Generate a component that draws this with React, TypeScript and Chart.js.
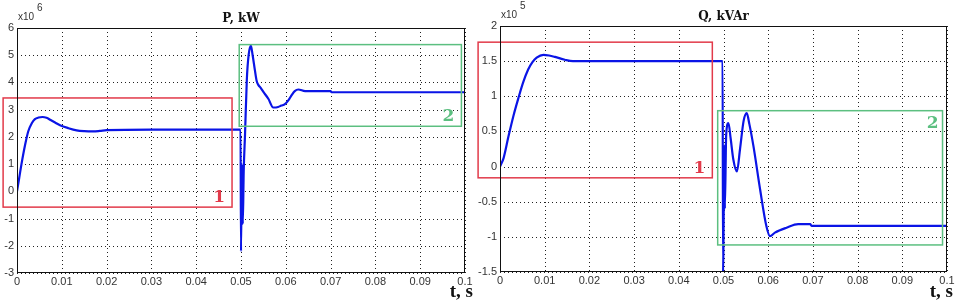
import React, { useEffect, useRef } from "react";
import { Chart, registerables } from "chart.js";

Chart.register(...registerables);

// ---- Data (P, ×10^6) ----
const pTime = [0, 0.0005, 0.001, 0.0018, 0.0025, 0.0033, 0.004, 0.0048, 0.0057, 0.0066, 0.0075, 0.0085, 0.0096, 0.0115,
  0.0133, 0.015, 0.017, 0.0185, 0.02, 0.03, 0.04, 0.0499,
  0.05, 0.0502, 0.0504, 0.0506, 0.0509, 0.0513, 0.0517, 0.0522, 0.0526, 0.0531, 0.0535, 0.0539, 0.0544, 0.055, 0.0561,
  0.0572, 0.0583, 0.059, 0.0598, 0.0606, 0.0613, 0.062, 0.0628, 0.0643, 0.07, 0.0702, 0.08, 0.09, 0.1];
const pValues = [0, 0.5, 1.0, 1.7, 2.2, 2.5, 2.65, 2.71, 2.73, 2.7, 2.62, 2.53, 2.43, 2.32,
  2.24, 2.21, 2.2, 2.22, 2.25, 2.27, 2.27, 2.27,
  -2.2, 1.0, -1.2, 0.7, 2.1, 4.1, 5.0, 5.35, 5.0, 4.45, 4.05, 3.9, 3.8, 3.65, 3.4,
  3.08, 3.1, 3.15, 3.2, 3.35, 3.53, 3.68, 3.74, 3.68, 3.68, 3.64, 3.64, 3.64, 3.64];

// ---- Data (Q, ×10^5) ----
const qTime = [0, 0.0008, 0.0019, 0.003, 0.0041, 0.0052, 0.0063, 0.0073, 0.0082, 0.0097, 0.011, 0.0123, 0.0145, 0.0163,
  0.02, 0.03, 0.04, 0.0498,
  0.0499, 0.0502, 0.0503, 0.0506, 0.0511, 0.0516, 0.0522, 0.053, 0.0537, 0.0545, 0.0552, 0.0558, 0.0567, 0.0582,
  0.0596, 0.0604, 0.0615, 0.0641, 0.0667, 0.0694, 0.0697, 0.08, 0.09, 0.1];
const qValues = [0, 0.12, 0.43, 0.72, 0.97, 1.2, 1.38, 1.49, 1.55, 1.59, 1.58, 1.56, 1.52, 1.5,
  1.5, 1.5, 1.5, 1.5,
  -1.5, 0.3, -0.6, 0.45, 0.62, 0.4, 0.1, -0.07, 0.25, 0.65, 0.76, 0.6, 0.29, -0.33,
  -0.85, -0.99, -0.94, -0.87, -0.82, -0.82, -0.845, -0.845, -0.845, -0.845];

// ---- Tick values ----
const pTicks = [-3, -2, -1, 0, 1, 2, 3, 4, 5, 6];
const qTicks = [-1.5, -1, -0.5, 0, 0.5, 1, 1.5, 2];
const timeTicks = [0, 0.01, 0.02, 0.03, 0.04, 0.05, 0.06, 0.07, 0.08, 0.09, 0.1];

// ---- Highlight regions [tMin, tMax, yMin, yMax] ----
const pRegion1 = [-0.0031, 0.048, -0.58, 3.43];
const pRegion2 = [0.0496, 0.0992, 2.39, 5.39];
const qRegion1 = [-0.0049, 0.0475, -0.16, 1.77];
const qRegion2 = [0.0487, 0.099, -1.115, 0.795];

type Cfg = {
  width: number;
  plotLeft: number;
  plotRight: number;
  plotTop: number;
  plotBottom: number;
  time: number[];
  values: number[];
  yTicks: number[];
  title: string;
  exponent: string;
  region1: number[];
  region2: number[];
  label2Top: boolean;
};

const H = 301;

function makeOverlay(cfg: Cfg) {
  return {
    id: "overlay",
    beforeDatasetsDraw(chart: any) {
      const ctx = chart.ctx;
      const xs = chart.scales.x;
      const ys = chart.scales.y;
      const area = chart.chartArea;
      ctx.save();
      ctx.strokeStyle = "#222";
      ctx.lineWidth = 1;
      ctx.setLineDash([1, 3]);
      timeTicks.forEach((t) => {
        const x = Math.round(xs.getPixelForValue(t)) + 0.5;
        ctx.beginPath();
        ctx.moveTo(x, area.top);
        ctx.lineTo(x, area.bottom);
        ctx.stroke();
      });
      cfg.yTicks.forEach((v) => {
        const y = Math.round(ys.getPixelForValue(v)) + 0.5;
        ctx.beginPath();
        ctx.moveTo(area.left, y);
        ctx.lineTo(area.right, y);
        ctx.stroke();
      });
      ctx.restore();
    },
    afterDatasetsDraw(chart: any) {
      const ctx = chart.ctx;
      const xs = chart.scales.x;
      const ys = chart.scales.y;
      const area = chart.chartArea;
      ctx.save();
      const drawBox = (r: number[], color: string, label: string, top: boolean) => {
        const x1 = xs.getPixelForValue(r[0]);
        const x2 = xs.getPixelForValue(r[1]);
        const y1 = ys.getPixelForValue(r[3]);
        const y2 = ys.getPixelForValue(r[2]);
        ctx.strokeStyle = color;
        ctx.lineWidth = 1.5;
        ctx.strokeRect(x1, y1, x2 - x1, y2 - y1);
        ctx.fillStyle = color;
        ctx.font = "bold 17px 'DejaVu Serif', 'Liberation Serif', serif";
        ctx.textAlign = "right";
        if (top) {
          ctx.textBaseline = "top";
          ctx.fillText(label, x2 - 4, y1 + 4);
        } else {
          ctx.textBaseline = "bottom";
          ctx.fillText(label, x2 - 7, y2 - 1);
        }
      };
      drawBox(cfg.region1, "#e23a4a", "1", false);
      drawBox(cfg.region2, "#5cbf80", "2", cfg.label2Top);
      // Title
      ctx.fillStyle = "#111";
      ctx.font = "bold 12px 'DejaVu Serif', 'Liberation Serif', serif";
      ctx.textAlign = "center";
      ctx.textBaseline = "bottom";
      ctx.fillText(cfg.title, (area.left + area.right) / 2, area.top - 3);
      // exponent
      ctx.fillStyle = "#333";
      ctx.font = "10px 'Liberation Sans', Arial, sans-serif";
      ctx.textAlign = "left";
      ctx.textBaseline = "middle";
      ctx.fillText("x10", area.left + 1, area.top - 11);
      ctx.fillText(cfg.exponent, area.left + 20, area.top - 20);
      // axis label
      ctx.fillStyle = "#111";
      ctx.font = "bold 19px 'Liberation Serif', 'DejaVu Serif', serif";
      ctx.textAlign = "right";
      ctx.textBaseline = "alphabetic";
      ctx.fillText("t, s", chart.width - 4, H - 4);
      // frame
      ctx.strokeStyle = "#111";
      ctx.lineWidth = 1;
      ctx.setLineDash([]);
      ctx.strokeRect(area.left + 0.5, area.top + 0.5, area.right - area.left - 1, area.bottom - area.top - 1);
      ctx.restore();
    },
  };
}

function fmt(v: number) {
  return String(Math.round(v * 1000) / 1000);
}

function Panel({ cfg }: { cfg: Cfg }) {
  const ref = useRef<HTMLCanvasElement | null>(null);
  useEffect(() => {
    if (!ref.current) return;
    const points = cfg.time.map((t, i) => ({ x: t, y: cfg.values[i] }));
    const tickFont = { family: "'Liberation Sans', Arial, sans-serif", size: 11 };
    const chart = new Chart(ref.current, {
      type: "line",
      data: {
        datasets: [
          {
            data: points,
            borderColor: "#0a14e6",
            borderWidth: 2.2,
            pointRadius: 0,
            cubicInterpolationMode: "monotone",
            fill: false,
          },
        ],
      },
      options: {
        animation: false,
        responsive: false,
        maintainAspectRatio: false,
        layout: {
          padding: { top: cfg.plotTop, right: cfg.width - cfg.plotRight, left: 0, bottom: 0 },
        },
        plugins: { legend: { display: false }, tooltip: { enabled: false }, title: { display: false } },
        scales: {
          x: {
            type: "linear",
            min: timeTicks[0],
            max: timeTicks[timeTicks.length - 1],
            afterFit: (s: any) => {
              s.height = H - cfg.plotBottom;
            },
            afterBuildTicks: (s: any) => {
              s.ticks = timeTicks.map((v) => ({ value: v }));
            },
            ticks: {
              callback: (v: any) => fmt(Number(v)),
              color: "#333",
              font: tickFont,
              padding: 2,
              maxRotation: 0,
              autoSkip: false,
            },
            grid: { display: false, drawTicks: false, tickLength: 0 },
            border: { display: false },
          },
          y: {
            type: "linear",
            min: cfg.yTicks[0],
            max: cfg.yTicks[cfg.yTicks.length - 1],
            afterFit: (s: any) => {
              s.width = cfg.plotLeft;
            },
            afterBuildTicks: (s: any) => {
              s.ticks = cfg.yTicks.map((v) => ({ value: v }));
            },
            ticks: {
              callback: (v: any) => fmt(Number(v)),
              color: "#333",
              font: tickFont,
              padding: 3,
              autoSkip: false,
            },
            grid: { display: false, drawTicks: false, tickLength: 0 },
            border: { display: false },
          },
        },
      },
      plugins: [makeOverlay(cfg)],
    } as any);
    return () => chart.destroy();
  }, [cfg]);
  return <canvas ref={ref} width={cfg.width} height={H} style={{ display: "block", width: cfg.width, height: H }} />;
}

const leftCfg: Cfg = {
  width: 477,
  plotLeft: 17,
  plotRight: 465,
  plotTop: 28,
  plotBottom: 273,
  time: pTime,
  values: pValues,
  yTicks: pTicks,
  title: "P, kW",
  exponent: "6",
  region1: pRegion1,
  region2: pRegion2,
  label2Top: false,
};

const rightCfg: Cfg = {
  width: 480,
  plotLeft: 23,
  plotRight: 470,
  plotTop: 26,
  plotBottom: 272,
  time: qTime,
  values: qValues,
  yTicks: qTicks,
  title: "Q, kVAr",
  exponent: "5",
  region1: qRegion1,
  region2: qRegion2,
  label2Top: true,
};

export default function App() {
  return (
    <div style={{ position: "absolute", left: 0, top: 0, width: 957, height: H, display: "flex", background: "#fff" }}>
      <Panel cfg={leftCfg} />
      <Panel cfg={rightCfg} />
    </div>
  );
}
